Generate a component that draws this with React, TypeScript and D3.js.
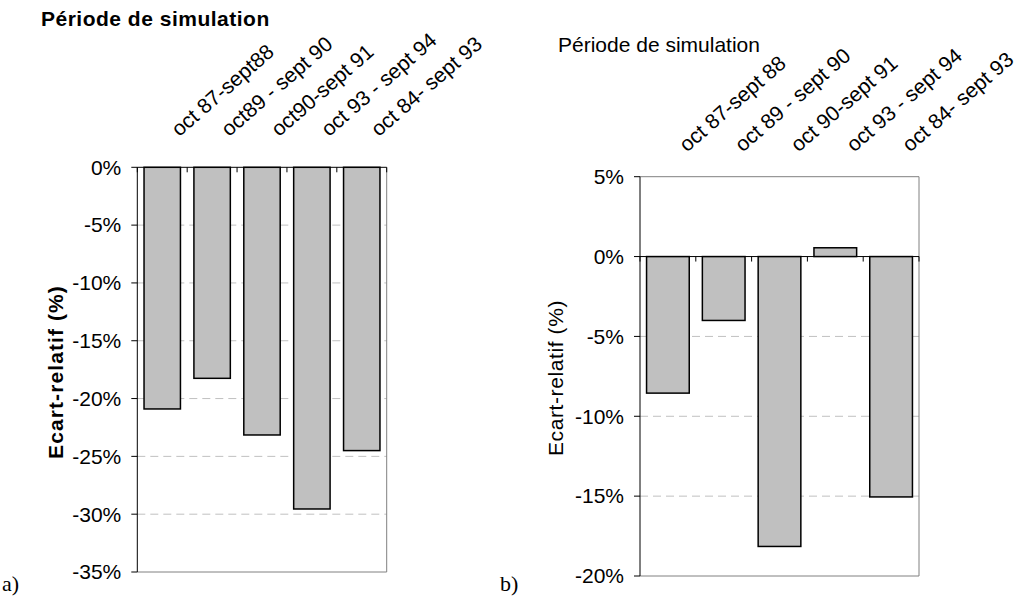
import * as d3 from 'd3'

const catsA = ['oct 87-sept88', 'oct89 - sept 90', 'oct90-sept 91', 'oct 93 - sept 94', 'oct 84- sept 93']
const valsA = [-20.9, -18.25, -23.15, -29.55, -24.5]
const ticksA = [0, -5, -10, -15, -20, -25, -30, -35]

const catsB = ['oct 87-sept 88', 'oct 89 - sept 90', 'oct 90-sept 91', 'oct 93 - sept 94', 'oct 84- sept 93']
const valsB = [-8.55, -4.0, -18.15, 0.55, -15.05]
const ticksB = [5, 0, -5, -10, -15, -20]

const FONT = 'Liberation Sans, Arial, sans-serif'
const FS = 21

type PanelProps = {
  cats: string[]; vals: number[]; ticks: number[]
  x0: number; x1: number; yTop: number; yBot: number
  padding: number; bold: boolean
  title: string; titleX: number; titleY: number; titleSpacing: number
  yTitleX: number; yTitleY: number; yTitleSpacing: number
  labelDx: number; labelDy: number
}

function Panel(p: PanelProps) {
  const domain = d3.extent(p.ticks) as [number, number]
  const y = d3.scaleLinear().domain(domain).range([p.yBot, p.yTop])
  const xb = d3.scaleBand<string>().domain(p.cats).range([p.x0, p.x1]).paddingInner(p.padding).paddingOuter(p.padding / 2)
  const step = xb.step()
  const top = y(domain[1]), bot = y(domain[0]), zero = y(0)
  const weight = p.bold ? 'bold' : 'normal'
  return (
    <g fontFamily={FONT}>
      {/* dashed grid */}
      {p.ticks.filter((t) => t !== 0 && t !== domain[0] && t !== domain[1]).map((t) => (
        <line key={'g' + t} x1={p.x0} x2={p.x1} y1={y(t)} y2={y(t)} stroke="#c0c0c0" strokeWidth={1} strokeDasharray="8,5" />
      ))}
      {/* plot border */}
      {domain[1] !== 0 && <line x1={p.x0} x2={p.x1} y1={top} y2={top} stroke="#808080" strokeWidth={1} />}
      <line x1={p.x0} x2={p.x1} y1={bot} y2={bot} stroke="#808080" strokeWidth={1} />
      <line x1={p.x1} x2={p.x1} y1={top} y2={bot} stroke="#808080" strokeWidth={1} />
      {/* bars */}
      {p.cats.map((c, i) => {
        const v = p.vals[i]
        return (
          <rect key={c} x={xb(c)} width={xb.bandwidth()} y={y(Math.max(0, v))} height={Math.abs(y(v) - zero)}
            fill="#c0c0c0" stroke="#000" strokeWidth={1.5} />
        )
      })}
      {/* category axis at zero */}
      <line x1={p.x0} x2={p.x1} y1={zero} y2={zero} stroke="#000" strokeWidth={1} />
      {d3.range(p.cats.length + 1).map((i) => (
        <line key={'ct' + i} x1={p.x0 + i * step} x2={p.x0 + i * step} y1={zero} y2={zero + 5} stroke="#000" strokeWidth={1} />
      ))}
      {/* value axis */}
      <line x1={p.x0} x2={p.x0} y1={top} y2={bot} stroke="#000" strokeWidth={1} />
      {p.ticks.map((t) => (
        <g key={'t' + t}>
          <line x1={p.x0 - 6} x2={p.x0} y1={y(t)} y2={y(t)} stroke="#000" strokeWidth={1} />
          <text x={p.x0 - 16} y={y(t)} dy="0.35em" textAnchor="end" fontSize={FS}>{t}%</text>
        </g>
      ))}
      {/* rotated category labels */}
      {p.cats.map((c) => {
        const cx = (xb(c) ?? 0) + xb.bandwidth() / 2
        return (
          <text key={'l' + c} transform={`translate(${cx + p.labelDx},${top - p.labelDy}) rotate(-41)`} fontSize={FS}>{c}</text>
        )
      })}
      <text x={p.titleX} y={p.titleY} fontSize={FS} fontWeight={weight} letterSpacing={p.titleSpacing}>{p.title}</text>
      <text transform={`translate(${p.yTitleX},${p.yTitleY}) rotate(-90)`} textAnchor="middle" fontSize={FS}
        fontWeight={weight} letterSpacing={p.yTitleSpacing}>Ecart-relatif (%)</text>
    </g>
  )
}

export default function App() {
  return (
    <svg width={1025} height={615} style={{ position: 'absolute', left: 0, top: 0, background: '#fff' }}>
      <rect width={1025} height={615} fill="#fff" />
      <Panel cats={catsA} vals={valsA} ticks={ticksA} x0={137.3} x1={386.7} yTop={167.3} yBot={572}
        padding={0.27} bold title="Période de simulation" titleX={41} titleY={26} titleSpacing={0.5}
        yTitleX={63} yTitleY={372} yTitleSpacing={1.1} labelDx={17} labelDy={30} />
      <Panel cats={catsB} vals={valsB} ticks={ticksB} x0={640} x1={919} yTop={176.7} yBot={576}
        padding={0.235} bold={false} title="Période de simulation" titleX={558} titleY={52} titleSpacing={0}
        yTitleX={563} yTitleY={378} yTitleSpacing={0.6} labelDx={19} labelDy={24} />
      <text x={2} y={591} fontSize={22} fontFamily="Liberation Serif, serif">a)</text>
      <text x={500} y={591} fontSize={22} fontFamily="Liberation Serif, serif">b)</text>
    </svg>
  )
}
